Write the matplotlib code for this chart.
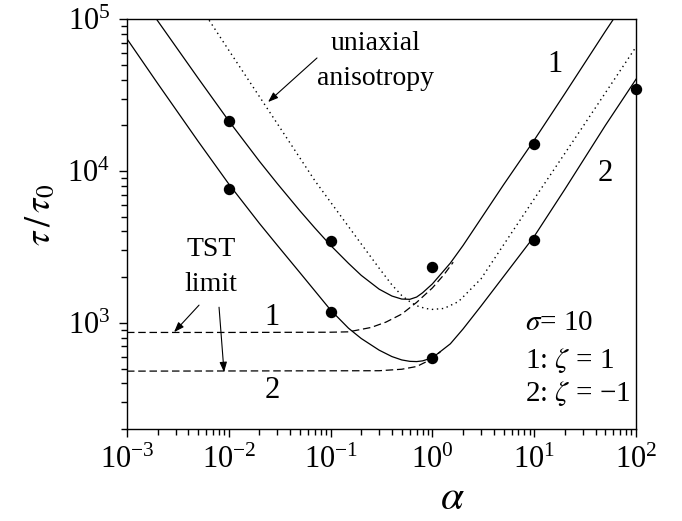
import numpy as np
import matplotlib
matplotlib.use("Agg")
from matplotlib import pyplot as plt

plt.rcParams['font.family'] = ['Liberation Serif', 'DejaVu Serif']
plt.rcParams['mathtext.fontset'] = 'stix'

# solid curve 1 (zeta = 1)
alpha_c1 = [0.0015, 0.002, 0.005, 0.01, 0.02, 0.03, 0.05, 0.07, 0.1, 0.15, 0.2,
            0.3, 0.4, 0.5, 0.6, 0.7, 0.8, 1, 1.5, 2, 3, 5, 10, 20, 50, 70]
tau_c1 = [1.288e5, 9.77e4, 40900, 21400, 11600, 8260, 5470, 4220, 3240, 2466, 2056,
          1667, 1503, 1435, 1430, 1480, 1578, 1807, 2477, 3236, 4864, 8130, 16000,
          32400, 83400, 1.17e5]

# solid curve 2 (zeta = -1)
alpha_c2 = [0.001, 0.002, 0.005, 0.01, 0.02, 0.03, 0.05, 0.1, 0.15, 0.2, 0.3, 0.4,
            0.5, 0.6, 0.7, 0.8, 1, 1.5, 2, 3, 5, 10, 20, 50, 100]
tau_c2 = [74300, 37800, 15700, 8220, 4520, 3240, 2140, 1215, 922, 789, 661, 600,
          570, 558, 556, 562, 589, 728, 912, 1290, 2020, 3715, 7590, 20000, 40300]

# uniaxial anisotropy (dotted)
alpha_ua = [0.005, 0.01, 0.03, 0.07, 0.1, 0.2, 0.3, 0.4, 0.5, 0.6, 0.7, 0.85, 1,
            1.3, 1.8, 3, 5, 10, 30, 100]
tau_ua = [1.27e5, 62500, 20500, 8650, 6240, 3310, 2290, 1780, 1514, 1380, 1297,
          1245, 1227, 1245, 1380, 1950, 3266, 6560, 19600, 65800]

# TST limit (dashed)
alpha_t1 = [0.001, 0.01, 0.1, 0.15, 0.25, 0.35, 0.5, 0.7, 1, 1.3, 1.6]
tau_t1 = [865, 865, 868, 873, 933, 1012, 1143, 1365, 1700, 2080, 2510]
alpha_t2 = [0.001, 0.3, 0.5, 0.7, 0.85, 1.0, 1.2]
tau_t2 = [481, 484, 495, 516, 550, 586, 646]

# simulation points
alpha_p1 = [0.01, 0.1, 1, 10]
tau_p1 = [21300, 3470, 2340, 15070]
alpha_p2 = [0.01, 0.1, 1, 10, 100]
tau_p2 = [7600, 1172, 588, 3510, 34900]

fig = plt.figure(figsize=(6.82, 5.21), dpi=100)
ax = fig.add_axes([0.1862, 0.1766, 0.7464, 0.7864])

ax.plot(alpha_c1, tau_c1, 'k-', lw=0.9)
ax.plot(alpha_c2, tau_c2, 'k-', lw=0.9)
ax.plot(alpha_ua, tau_ua, 'k', lw=1.0, dashes=(1.0, 2.6))
ax.plot(alpha_t1, tau_t1, 'k', lw=0.9, dashes=(6, 3))
ax.plot(alpha_t2, tau_t2, 'k', lw=0.9, dashes=(6, 3))
ax.plot(alpha_p1, tau_p1, 'ko', ms=7.2, clip_on=False, zorder=5)
ax.plot(alpha_p2, tau_p2, 'ko', ms=7.2, clip_on=False, zorder=5)

ax.set_xscale('log')
ax.set_yscale('log')
ax.set_xlim(1e-3, 1e2)
ax.set_ylim(200, 1e5)

ax.tick_params(which='both', direction='out', top=False, right=False,
               labelsize=22, width=1.0)
ax.tick_params(which='major', length=6, pad=6)
ax.tick_params(which='minor', length=4)
ax.yaxis.set_minor_formatter(matplotlib.ticker.NullFormatter())
for s in ax.spines.values():
    s.set_linewidth(1.0)

ax.set_ylabel(r'$\tau\,/\,\tau_0$', fontsize=26, va='center')
ax.yaxis.set_label_coords(-0.167, 0.522)
ax.set_xlabel(r'$\alpha$', fontsize=30, va='center')
ax.xaxis.set_label_coords(0.640, -0.170)

arrow = dict(arrowstyle='-|>,head_length=0.6,head_width=0.22', color='k',
             lw=0.8, shrinkA=0, shrinkB=0, mutation_scale=10)
ax.annotate('', xy=(0.0243, 28500), xytext=(0.0735, 55600), arrowprops=arrow)
ax.annotate('', xy=(0.0029, 869), xytext=(0.0051, 1309), arrowprops=arrow)
ax.annotate('', xy=(0.00898, 473), xytext=(0.00802, 1268), arrowprops=arrow)

ax.text(0.279, 53100, 'uniaxial\nanisotropy', fontsize=20, ha='center',
        va='center', linespacing=1.5)
ax.text(0.00668, 2330, 'TST\nlimit', fontsize=20, ha='center', va='center',
        linespacing=1.5)

ax.text(0.0265, 1091, '1', fontsize=22, ha='center', va='center')
ax.text(0.0265, 360, '2', fontsize=22, ha='center', va='center')
ax.text(16.0, 50000, '1', fontsize=22, ha='center', va='center')
ax.text(49.7, 9700, '2', fontsize=22, ha='center', va='center')

ax.text(8.13, 995, r'$\sigma$= 10', fontsize=21, ha='left', va='center')
ax.text(8.13, 567, r'1: $\zeta$ = 1', fontsize=21, ha='left', va='center')
ax.text(8.13, 345, '2: $\\zeta$ = \u22121', fontsize=21, ha='left', va='center')

plt.savefig('out.png', dpi=100)
